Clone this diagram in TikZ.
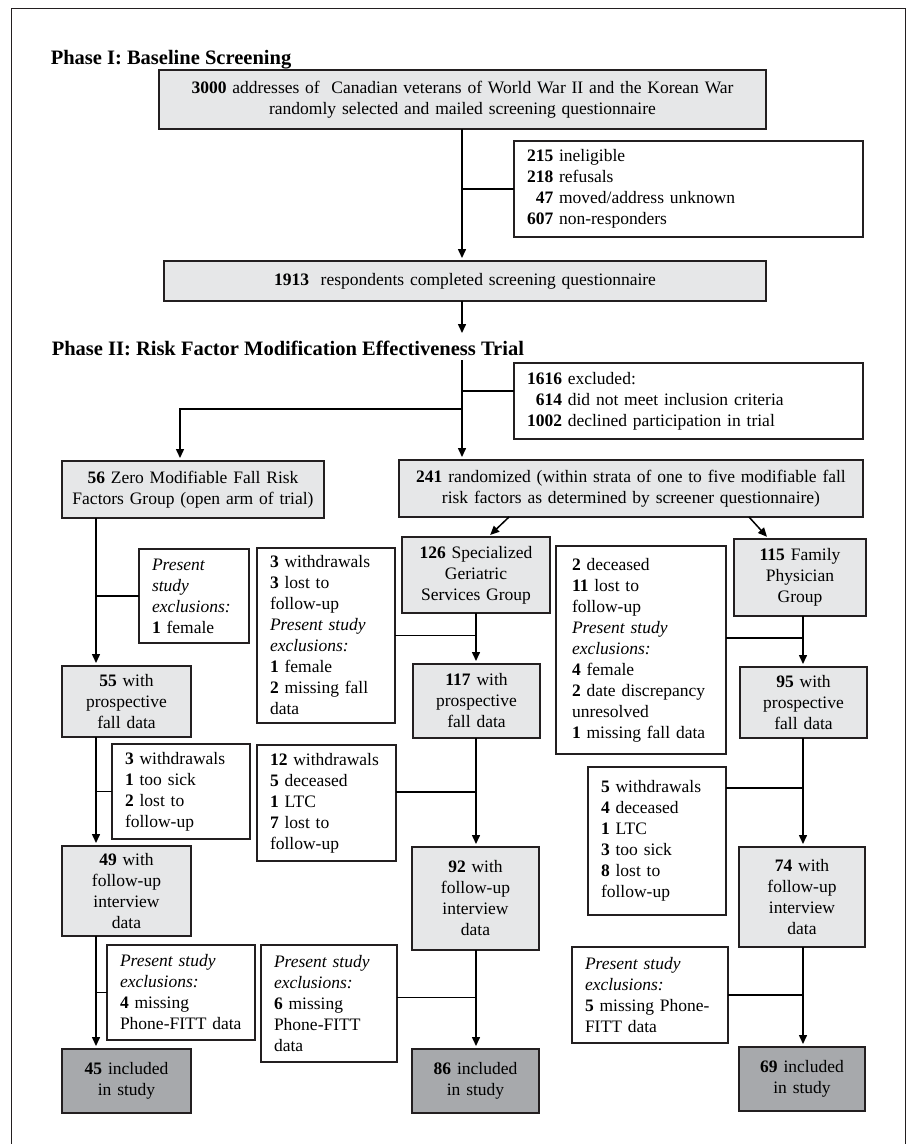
\documentclass[tikz,border=0pt]{standalone}
\usepackage{fontspec}
\setmainfont{Liberation Serif}
\usetikzlibrary{arrows.meta}
\definecolor{boxgrey}{HTML}{E6E7E8}
\definecolor{dkgrey}{HTML}{A7A9AC}
\definecolor{ink}{HTML}{231F20}

\begin{document}
\begin{tikzpicture}[x=1pt, y=-1pt, line width=1.5pt,
	>={Triangle[length=9pt,width=8pt]},
	flow/.style={->, shorten >=3pt},
	txt/.style={font=\fontsize{17.5}{21}\selectfont},
	grey/.style={txt, draw=ink, line width=2pt, fill=boxgrey, anchor=north west, align=center, inner xsep=4pt, inner ysep=0pt, outer sep=0pt},
	final/.style={grey, fill=dkgrey},
	note/.style={txt, draw=ink, line width=1.8pt, fill=white, anchor=north west, align=left, inner xsep=13pt, inner ysep=0pt, outer sep=0pt},
	head/.style={font=\fontsize{20.5}{24}\selectfont\bfseries, anchor=base west, inner sep=0pt}]
	\useasboundingbox (0,0) rectangle (906,1144);
	\draw[line width=1pt, ink] (11,1144) -- (11,8) -- (905,8) -- (905,1144);

	\node[head] (phase1) at (50,64) {Phase I: Baseline Screening};
	\node[grey, text width=599pt, minimum height=59pt] (b3000) at (159,70) {\textbf{3000} addresses of \ Canadian veterans of World War II and the Korean War\\ randomly selected and mailed screening questionnaire};
	\node[note, text width=323pt, minimum height=96pt] (ex1) at (514,141) {\textbf{215} ineligible\\ \textbf{218} refusals\\ \phantom{6}\textbf{47} moved/address unknown\\ \textbf{607} non-responders};
	\node[grey, text width=594pt, minimum height=40pt] (b1913) at (164,261) {\textbf{1913} \ respondents completed screening questionnaire};

	\node[head] (phase2) at (51,355) {Phase II: Risk Factor Modification Effectiveness Trial};
	\node[note, text width=323pt, minimum height=76pt] (ex2) at (514,363) {\textbf{1616} excluded:\\ \phantom{1}\textbf{614} did not meet inclusion criteria\\ \textbf{1002} declined participation in trial};
	\node[grey, text width=254pt, minimum height=57pt] (b56) at (62,461) {\textbf{56} Zero Modifiable Fall Risk\\ Factors Group (open arm of trial)};
	\node[grey, text width=456pt, minimum height=57pt] (b241) at (399,460) {\textbf{241} randomized (within strata of one to five modifiable fall\\ risk factors as determined by screener questionnaire)};
	\node[grey, text width=140pt, minimum height=76pt] (b126) at (402,537) {\textbf{126} Specialized\\ Geriatric\\ Services Group};
	\node[grey, text width=124pt, minimum height=77pt] (b115) at (734,539) {\textbf{115} Family\\ Physician\\ Group};

	\node[note, text width=84pt, minimum height=94pt] (ex3) at (139,549) {\textit{Present}\\ \textit{study}\\ \textit{exclusions:}\\ \textbf{1} female};
	\node[note, text width=112pt, minimum height=175pt] (ex4) at (257,548) {\textbf{3} withdrawals\\ \textbf{3} lost to\\ follow-up\\ \textit{Present study}\\ \textit{exclusions:}\\ \textbf{1} female\\ \textbf{2} missing fall\\ data};
	\node[note, inner xsep=16pt, text width=138pt, minimum height=208pt] (ex5) at (556,546) {\textbf{2} deceased\\ \textbf{11} lost to\\ follow-up\\ \textit{Present study}\\ \textit{exclusions:}\\ \textbf{4} female\\ \textbf{2} date discrepancy\\ unresolved\\ \textbf{1} missing fall data};

	\node[grey, text width=121pt, minimum height=71pt] (b55) at (62,666) {\textbf{55} with\\ prospective\\ fall data};
	\node[grey, text width=119pt, minimum height=74pt] (b117) at (413,664) {\textbf{117} with\\ prospective\\ fall data};
	\node[grey, text width=119pt, minimum height=71pt] (b95) at (740,667) {\textbf{95} with\\ prospective\\ fall data};

	\node[note, text width=112pt, minimum height=95pt] (ex6) at (112,744) {\textbf{3} withdrawals\\ \textbf{1} too sick\\ \textbf{2} lost to\\ follow-up};
	\node[note, text width=113pt, minimum height=116pt] (ex7) at (257,745) {\textbf{12} withdrawals\\ \textbf{5} deceased\\ \textbf{1} LTC\\ \textbf{7} lost to\\ follow-up};
	\node[note, text width=112pt, minimum height=148pt] (ex8) at (588,767) {\textbf{5} withdrawals\\ \textbf{4} deceased\\ \textbf{1} LTC\\ \textbf{3} too sick\\ \textbf{8} lost to\\ follow-up};

	\node[grey, text width=121pt, minimum height=90pt] (b49) at (62,846) {\textbf{49} with\\ follow-up\\ interview\\ data};
	\node[grey, text width=119pt, minimum height=103pt] (b92) at (412,847) {\textbf{92} with\\ follow-up\\ interview\\ data};
	\node[grey, text width=118pt, minimum height=100pt] (b74) at (739,847) {\textbf{74} with\\ follow-up\\ interview\\ data};

	\node[note, text width=122pt, minimum height=95pt] (ex9) at (107,945) {\textit{Present study}\\ \textit{exclusions:}\\ \textbf{4} missing\\ \mbox{Phone-FITT data}};
	\node[note, text width=110pt, minimum height=117pt] (ex10) at (261,945) {\textit{Present study}\\ \textit{exclusions:}\\ \textbf{6} missing\\ Phone-FITT\\ data};
	\node[note, text width=130pt, minimum height=96pt] (ex11) at (572,947) {\textit{Present study}\\ \textit{exclusions:}\\ \textbf{5} missing Phone-\\ FITT data};

	\node[final, text width=121pt, minimum height=64pt] (b45) at (62,1049) {\textbf{45} included\\ in study};
	\node[final, text width=119pt, minimum height=64pt] (b86) at (412,1049) {\textbf{86} included\\ in study};
	\node[final, text width=118pt, minimum height=64pt] (b69) at (739,1047) {\textbf{69} included\\ in study};

	\coordinate (colM) at (462,0);
	\coordinate (colZ) at (180,0);
	\coordinate (colA) at (96,0);
	\coordinate (colB) at (476,0);
	\coordinate (colC) at (803,0);
	\coordinate (split) at (462,409);
	\coordinate (endp1) at (462,336);
	\coordinate (startp2) at (462,360);

	\draw[flow] (b3000.south -| colM) -- (b1913.north -| colM);
	\draw (ex1.west) -- (ex1.west -| colM);
	\draw[flow] (b1913.south -| colM) -- (endp1);
	\draw[flow] (startp2) -- (b241.north -| colM);
	\draw ([yshift=10pt]ex2.west) -- ([yshift=10pt]ex2.west -| colM);
	\draw[flow] (split) -| (b56.north -| colZ);
	\draw[flow] ([xshift=-122pt]b241.south) -- ([xshift=12pt]b126.north);
	\draw[flow] ([xshift=118pt]b241.south) -- ([xshift=-31pt]b115.north);

	\draw[flow] (b56.south -| colA) -- (b55.north -| colA);
	\draw (ex3.west) -- (ex3.west -| colA);
	\draw[flow] (b55.south -| colA) -- (b49.north -| colA);
	\draw (ex6.west) -- (ex6.west -| colA);
	\draw[flow] (b49.south -| colA) -- (b45.north -| colA);
	\draw (ex9.west) -- (ex9.west -| colA);

	\draw[flow] (b126.south -| colB) -- (b117.north -| colB);
	\draw (ex4.east) -- (ex4.east -| colB);
	\draw[flow] (b117.south -| colB) -- (b92.north -| colB);
	\draw ([yshift=11pt]ex7.east) -- ([yshift=11pt]ex7.east -| colB);
	\draw[flow] (b92.south -| colB) -- (b86.north -| colB);
	\draw ([yshift=6pt]ex10.east) -- ([yshift=6pt]ex10.east -| colB);

	\draw[flow] (b115.south -| colC) -- (b95.north -| colC);
	\draw ([yshift=12pt]ex5.east) -- ([yshift=12pt]ex5.east -| colC);
	\draw[flow] (b95.south -| colC) -- (b74.north -| colC);
	\draw ([yshift=53pt]ex8.east) -- ([yshift=53pt]ex8.east -| colC);
	\draw[flow] (b74.south -| colC) -- (b69.north -| colC);
	\draw (ex11.east) -- (ex11.east -| colC);
\end{tikzpicture}
\end{document}
